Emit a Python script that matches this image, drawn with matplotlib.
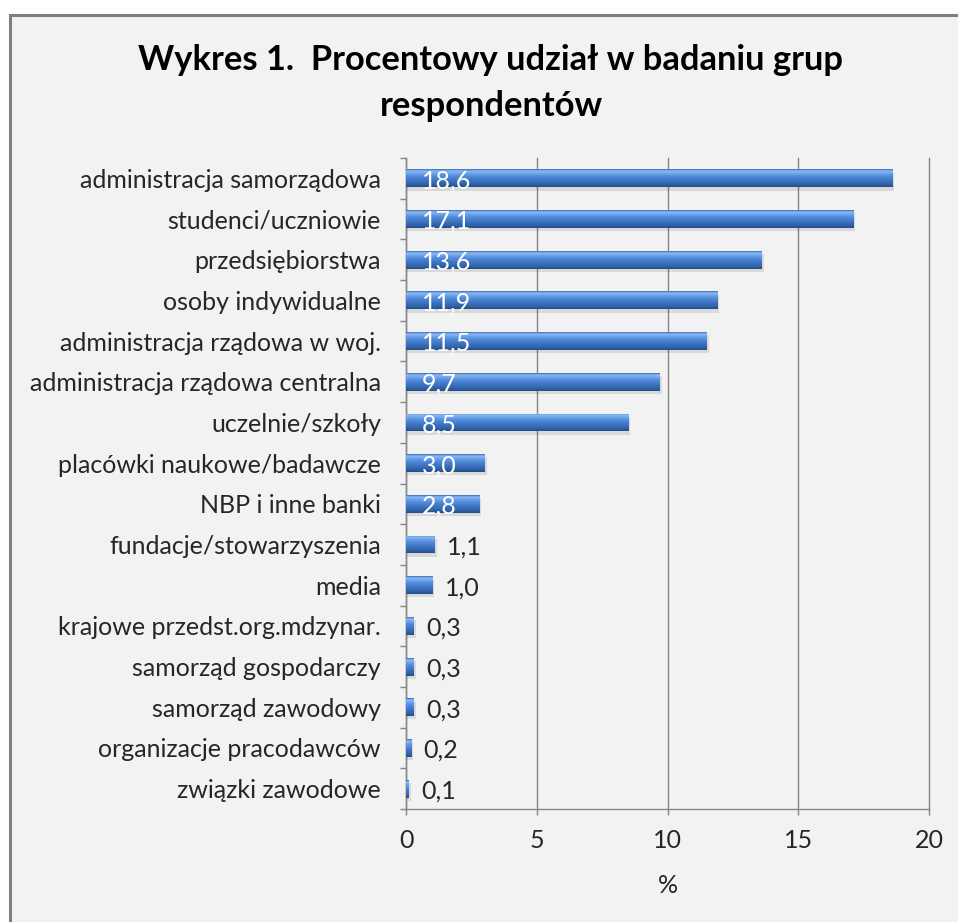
import numpy as np
import matplotlib
matplotlib.use("Agg")
import matplotlib.pyplot as plt
from matplotlib.patches import Rectangle
from matplotlib.colors import LinearSegmentedColormap

categories = [
    "administracja samorządowa",
    "studenci/uczniowie",
    "przedsiębiorstwa",
    "osoby indywidualne",
    "administracja rządowa w woj.",
    "administracja rządowa centralna",
    "uczelnie/szkoły",
    "placówki naukowe/badawcze",
    "NBP i inne banki",
    "fundacje/stowarzyszenia",
    "media",
    "krajowe przedst.org.mdzynar.",
    "samorząd gospodarczy",
    "samorząd zawodowy",
    "organizacje pracodawców",
    "związki zawodowe",
]
values = [18.6, 17.1, 13.6, 11.9, 11.5, 9.7, 8.5, 3.0, 2.8, 1.1, 1.0, 0.3, 0.3, 0.3, 0.2, 0.1]
x_ticks = [0, 5, 10, 15, 20]

title = "Wykres 1.  Procentowy udział w badaniu grup\nrespondentów"
font = "Lato"
fs = 18

W, H = 958, 922
fig = plt.figure(figsize=(W / 100, H / 100), dpi=100, facecolor="white")

# chart area with grey frame
frame = Rectangle((9.5 / W, -0.05), 1.2, 1 - 14.5 / H + 0.05, transform=fig.transFigure,
                  facecolor="#f2f2f2", edgecolor="#7f7f7f", linewidth=2.2, zorder=-5)
fig.patches.append(frame)

fig.text(491 / W, 1 - 83 / H, title, ha="center", va="center", fontsize=24.8,
         fontweight="bold", family=font, color="black", linespacing=1.5, zorder=5)

ax = fig.add_axes([406 / W, 1 - 809 / H, (929 - 406) / W, (809 - 158) / H], zorder=2)
ax.set_facecolor("none")

n = len(categories)
ypos = np.arange(n)
bar_h = 0.44
bars = ax.barh(ypos, values, height=bar_h, color="#4f81bd", linewidth=0, zorder=3)

# cylinder-like shading along the bar height (top -> bottom)
shade = LinearSegmentedColormap.from_list("cyl", [
    (0.00, "#3b6db3"),
    (0.10, "#8cbaf4"),
    (0.22, "#72a6ec"),
    (0.40, "#508bda"),
    (0.62, "#3f76c4"),
    (0.85, "#2f62a8"),
    (1.00, "#234d88"),
])
grad = np.linspace(0, 1, 64).reshape(-1, 1)
for b in bars:
    x0, y0 = b.get_x(), b.get_y()
    w, h = b.get_width(), b.get_height()
    # soft shadow beneath each bar
    ax.add_patch(Rectangle((x0, y0 + 0.08), w + 0.08, h, facecolor="#000000",
                           alpha=0.10, linewidth=0, zorder=2))
    im = ax.imshow(grad, cmap=shade, aspect="auto", extent=(x0, x0 + w, y0 + h, y0),
                   interpolation="bilinear", zorder=4)
    im.set_clip_path(b)

ax.set_xlim(0, 20)
ax.set_ylim(n - 0.5, -0.5)

for y, v in zip(ypos, values):
    lab = f"{v:.1f}".replace(".", ",")
    if v >= 2.5:
        ax.text(0.6, y + 0.06, lab, ha="left", va="center", color="white",
                fontsize=fs, family=font, zorder=6)
    else:
        ax.annotate(lab, (v, y + 0.06), xytext=(9, 0), textcoords="offset points",
                    ha="left", va="center", color="#262626", fontsize=fs, family=font,
                    zorder=6)

ax.set_xticks(x_ticks)
ax.set_xticklabels([str(t) for t in x_ticks], family=font, fontsize=fs, color="#262626")
ax.set_yticks(ypos)
ax.set_yticklabels(categories, family=font, fontsize=fs, color="#262626")
ax.set_yticks(np.arange(-0.5, n, 1.0), minor=True)
ax.tick_params(axis="y", which="major", length=0, pad=18)
ax.tick_params(axis="y", which="minor", length=4.5, color="#868686", width=1)
ax.tick_params(axis="x", which="major", length=4.5, color="#868686", width=1, pad=10)

ax.grid(axis="x", color="#868686", linewidth=1, zorder=1)
for gl in ax.get_xgridlines():
    gl.set_clip_on(False)
ax.set_axisbelow(True)
for s in ["top", "right"]:
    ax.spines[s].set_visible(False)
for s in ["left", "bottom"]:
    ax.spines[s].set_color("#868686")
    ax.spines[s].set_linewidth(1)

ax.set_xlabel("%", family=font, fontsize=fs, color="#262626", labelpad=16)

fig.savefig("out.png", dpi=100, facecolor="white")
